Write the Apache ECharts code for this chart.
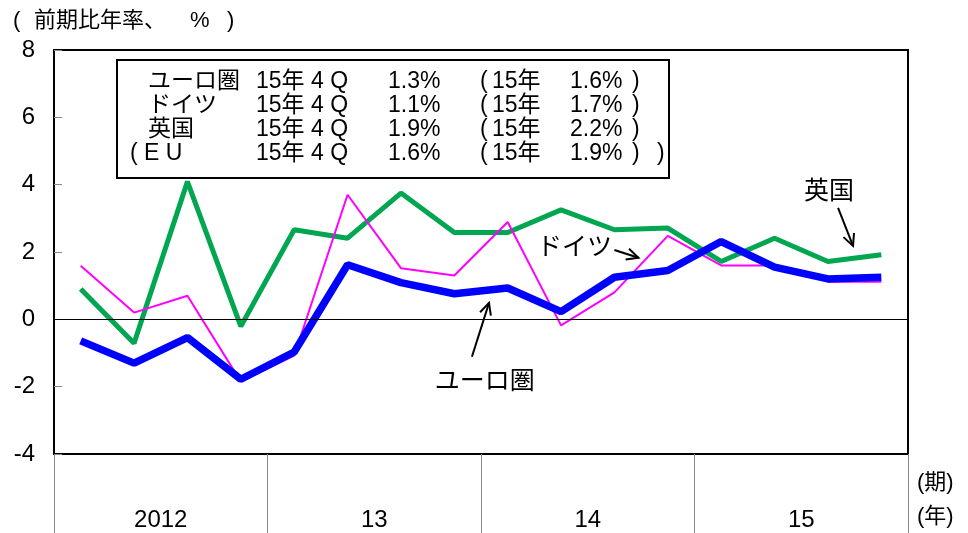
<!DOCTYPE html>
<html><head><meta charset="utf-8">
<script src="https://cdn.jsdelivr.net/npm/echarts@6/dist/echarts.min.js"></script>
<style>html,body{margin:0;padding:0;background:#fff}#c{width:968px;height:533px}</style>
</head><body><div id="c"></div>
<script>
const quarters = ['12Q1','12Q2','12Q3','12Q4','13Q1','13Q2','13Q3','13Q4','14Q1','14Q2','14Q3','14Q4','15Q1','15Q2','15Q3','15Q4'];
const years = ['2012','13','14','15'];
const euro = [-0.64,-1.30,-0.54,-1.78,-0.97,1.62,1.09,0.76,0.93,0.23,1.25,1.45,2.31,1.55,1.20,1.25];
const germany = [1.59,0.20,0.70,-1.85,-1.08,3.70,1.52,1.30,2.89,-0.18,0.80,2.48,1.60,1.60,1.12,1.12];
const uk = [0.90,-0.71,4.09,-0.21,2.66,2.41,3.75,2.58,2.58,3.25,2.66,2.71,1.72,2.41,1.72,1.92];
const yTicks = {min:-4, max:8, interval:2};
const boxNames = ['ユーロ圏','ドイツ','英国','( E U'];
const boxQuarter = ['15年 4 Q','15年 4 Q','15年 4 Q','15年 4 Q'];
const boxQ4 = ['1.3%','1.1%','1.9%','1.6%'];
const boxYear = ['1.6%','1.7%','2.2%','1.9%'];
const FONT = "'Liberation Sans','Noto Sans CJK JP',sans-serif";
const chart = echarts.init(document.getElementById('c'));
chart.setOption({
  animation:false,
  backgroundColor:'#fff',
  grid:{left:54,right:60,top:50,bottom:79,show:true,borderColor:'#000',borderWidth:2,backgroundColor:'transparent'},
  xAxis:[
    {type:'category',data:quarters,boundaryGap:true,axisLine:{show:false},axisTick:{show:false},axisLabel:{show:false},position:'bottom'},
    {type:'category',data:years,boundaryGap:true,position:'bottom',axisLine:{show:false},
     axisTick:{show:true,length:79,lineStyle:{color:'#888',width:1}},
     axisLabel:{margin:54,fontSize:24,color:'#000',fontFamily:FONT}}
  ],
  yAxis:{type:'value',min:yTicks.min,max:yTicks.max,interval:yTicks.interval,
    axisLine:{show:true,lineStyle:{color:'#000',width:2}},
    axisTick:{show:true,inside:true,length:8,lineStyle:{color:'#888'}},
    axisLabel:{fontSize:24,color:'#000',margin:19,fontFamily:FONT},
    splitLine:{show:false}},
  series:[
    {name:'英国',type:'line',data:uk,symbol:'none',lineStyle:{color:'#00A650',width:5},itemStyle:{color:'#00A650'},
     markLine:{silent:true,symbol:'none',label:{show:false},lineStyle:{color:'#000',width:1,type:'solid'},data:[{yAxis:0}]}},
    {name:'ドイツ',type:'line',data:germany,symbol:'none',lineStyle:{color:'#FF00FF',width:2},itemStyle:{color:'#FF00FF'}},
    {name:'ユーロ圏',type:'line',data:euro,symbol:'none',lineStyle:{color:'#0000FF',width:7.5},itemStyle:{color:'#0000FF'}}
  ]
});

// annotations anchored in data space
function P(ix, v){
  const a = chart.convertToPixel({xAxisIndex:0}, 0);
  const b = chart.convertToPixel({xAxisIndex:0}, 1);
  return [a + ix*(b-a), chart.convertToPixel({yAxisIndex:0}, v)];
}
const annots = [
  {text:'ドイツ', at:[9.25,2.12], from:[10.0,2.06], to:[10.45,1.83]},
  {text:'英国', at:[14.02,3.79], from:[14.19,3.31], to:[14.47,2.18]},
  {text:'ユーロ圏', at:[7.57,-1.86], from:[7.33,-1.11], to:[7.65,0.49]}
];
const g = [];
annots.forEach(an=>{
  const c = P(an.at[0], an.at[1]);
  g.push({type:'text',x:c[0],y:c[1],style:{text:an.text,font:"25px "+FONT,fill:'#000',textAlign:'center',textVerticalAlign:'middle'}});
  const f = P(an.from[0], an.from[1]), t = P(an.to[0], an.to[1]);
  g.push({type:'line',shape:{x1:f[0],y1:f[1],x2:t[0],y2:t[1]},style:{stroke:'#000',lineWidth:2}});
  const ang = Math.atan2(t[1]-f[1], t[0]-f[0]);
  const L = 13, s = 0.45;
  const p1 = [t[0]-L*Math.cos(ang-s), t[1]-L*Math.sin(ang-s)];
  const p2 = [t[0]-L*Math.cos(ang+s), t[1]-L*Math.sin(ang+s)];
  g.push({type:'polyline',shape:{points:[p1,t,p2]},style:{stroke:'#000',lineWidth:2,fill:null}});
});
// title and axis unit labels
const tf = "22px "+FONT;
g.push({type:'text',x:13,y:21,style:{text:'(',font:tf,fill:'#000',textVerticalAlign:'middle'}});
g.push({type:'text',x:34,y:21,style:{text:'前期比年率、',font:tf,fill:'#000',textVerticalAlign:'middle'}});
g.push({type:'text',x:190,y:21,style:{text:'%',font:tf,fill:'#000',textVerticalAlign:'middle'}});
g.push({type:'text',x:227,y:21,style:{text:')',font:tf,fill:'#000',textVerticalAlign:'middle'}});
g.push({type:'text',x:917,y:483,style:{text:'(期)',font:"22px "+FONT,fill:'#000',textVerticalAlign:'middle'}});
g.push({type:'text',x:917,y:517,style:{text:'(年)',font:"22px "+FONT,fill:'#000',textVerticalAlign:'middle'}});
// info box
g.push({type:'rect',shape:{x:117,y:60,width:552,height:118},style:{fill:'#fff',stroke:'#000',lineWidth:2},z:10});
const bf = "23px "+FONT;
function bt(x,y,s){ g.push({type:'text',x:x,y:y,z:11,style:{text:s,font:bf,fill:'#000',textVerticalAlign:'middle'}}); }
for(let i=0;i<4;i++){
  const y = 82+i*24;
  bt(i===3?130:148, y, boxNames[i]);
  bt(256, y, boxQuarter[i]);
  bt(388, y, boxQ4[i]);
  bt(480, y, '(');
  bt(492, y, '15年');
  bt(570, y, boxYear[i]);
  bt(632, y, ')');
  if(i===3) bt(657, y, ')');
}
chart.setOption({graphic:g});
</script></body></html>
